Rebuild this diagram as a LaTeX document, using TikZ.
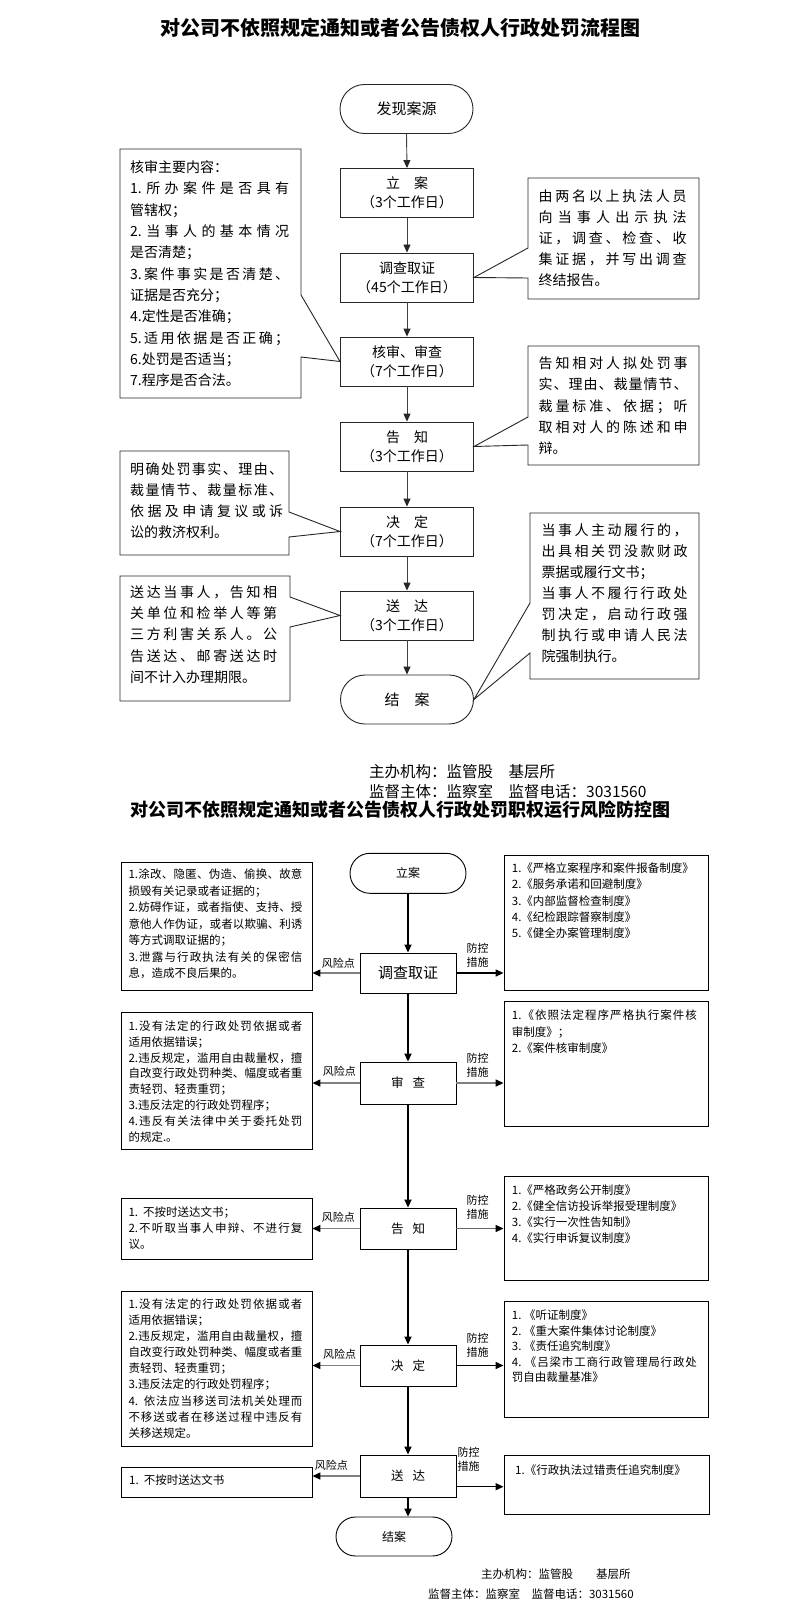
\documentclass[tikz,border=0pt]{standalone}
\usepackage{fontspec}
\setmainfont{Noto Sans CJK SC}
\usetikzlibrary{arrows.meta,shapes.misc}
\newlength\tw
\makeatletter
\def\jl@endmark{\jl@end}
\def\jl@loop#1{\def\jl@tmp{#1}\ifx\jl@tmp\jl@endmark\else#1\hfil\expandafter\jl@loop\fi}
\newcommand\JL[1]{\hbox to \tw{\jl@loop#1\jl@end\unskip}}
\makeatother
\newcommand\NL[1]{\hbox{#1}}
\newcommand\TBox[3]{\setlength\tw{#1}\vtop{\baselineskip=#2\lineskiplimit=-50pt\lineskip=0pt #3}}
\begin{document}
\begin{tikzpicture}[x=1pt,y=-1pt,
  every node/.style={inner sep=0pt},
  tbox/.style={draw=black!85, line width=0.9pt, minimum width=133pt, minimum height=49pt, align=center, font=\fontsize{14}{19}\selectfont},
  tterm/.style={rounded rectangle, draw=black!85, line width=0.9pt, minimum width=133pt, minimum height=49pt, font=\fontsize{15}{18}\selectfont},
  tarr/.style={draw=black!75, line width=0.9pt, -{Triangle[length=8pt,width=7pt,color=black!85]}},
  callout/.style={draw=black!85, line width=0.9pt, fill=white},
  ttext/.style={anchor=base west, font=\fontsize{14}{21}\selectfont},
  bbox/.style={draw, line width=0.9pt, minimum width=96pt, minimum height=41pt, font=\fontsize{12.5}{15}\selectfont},
  bterm/.style={rounded rectangle, draw, line width=0.9pt, minimum width=116pt, minimum height=40pt, font=\fontsize{12}{14}\selectfont},
  sbox/.style={draw, line width=0.9pt},
  btext/.style={anchor=base west, font=\fontsize{11.5}{16}\selectfont},
  varr/.style={line width=1.8pt, -{Triangle[length=8pt,width=7pt]}},
  harr/.style={line width=1.4pt, -{Triangle[length=8pt,width=7pt,color=black]}},
  lab/.style={font=\fontsize{11}{14}\selectfont, align=center},
  foot/.style={anchor=base west, font=\fontsize{15.5}{18}\selectfont},
  bfoot/.style={anchor=base west, font=\fontsize{11.5}{14}\selectfont},
  ttl/.style={font=\fontsize{18}{20}\selectfont\bfseries}
]
\path[use as bounding box, fill=white] (0,0) rectangle (793,1621);

% ===== Top flowchart =====
\node[ttl, font=\fontsize{20}{22}\selectfont\bfseries] (title1) at (400,28) {对公司不依照规定通知或者公告债权人行政处罚流程图};

\node[tterm] (t0) at (406.5,109) {发现案源};
\node[tbox] (c1) at (407,193) {立　案\\（3个工作日）};
\node[tbox] (c2) at (407,277.5) {调查取证\\（45个工作日）};
\node[tbox] (c3) at (407,361.5) {核审、审查\\（7个工作日）};
\node[tbox] (c4) at (407,446.5) {告　知\\（3个工作日）};
\node[tbox] (c5) at (407,531.5) {决　定\\（7个工作日）};
\node[tbox] (c6) at (407,615.5) {送　达\\（3个工作日）};
\node[tterm] (t1) at (407,699.5) {结　案};

\draw[tarr] (t0.south) -- (c1.north);
\draw[tarr] (c1.south) -- (c2.north);
\draw[tarr] (c2.south) -- (c3.north);
\draw[tarr] (c3.south) -- (c4.north);
\draw[tarr] (c4.south) -- (c5.north);
\draw[tarr] (c5.south) -- (c6.north);
\draw[tarr] (c6.south) -- (t1.north);

% callout A (left)
\draw[callout] (120,149) -- (301,149) -- (301,295) -- (c3.west) -- (301,357) -- (301,398) -- (120,398) -- cycle;
\node[ttext] (ta) at (130,172.6) {\TBox{159pt}{21.34pt}{%
\NL{核审主要内容：}
\JL{{1.}所办案件是否具有}
\NL{管辖权；}
\JL{{2.}当事人的基本情况}
\NL{是否清楚；}
\JL{{3.}案件事实是否清楚、}
\NL{证据是否充分；}
\NL{4.定性是否准确；}
\JL{{5.}适用依据是否正确；}
\NL{6.处罚是否适当；}
\NL{7.程序是否合法。}}};

% callout B (right)
\draw[callout] (528,178) -- (699,178) -- (699,299) -- (528,299) -- (528,278) -- (c2.east) -- (528,248) -- cycle;
\node[ttext] (tb) at (538.5,202) {\TBox{148pt}{21pt}{%
\JL{由两名以上执法人员}
\JL{向当事人出示执法}
\JL{证，调查、检查、收}
\JL{集证据，并写出调查}
\NL{终结报告。}}};

% callout C (right)
\draw[callout] (528,346) -- (699,346) -- (699,465) -- (528,465) -- (528,445) -- (c4.east) -- (528,417) -- cycle;
\node[ttext] (tc) at (538.5,368.6) {\TBox{149pt}{21.25pt}{%
\JL{告知相对人拟处罚事}
\JL{实、理由、裁量情节、}
\JL{裁量标准、依据；听}
\JL{取相对人的陈述和申}
\NL{辩。}}};

% callout D (left)
\draw[callout] (120,451) -- (289,451) -- (289,512) -- (c5.west) -- (289,537) -- (289,555) -- (120,555) -- cycle;
\node[ttext] (td) at (130,474.6) {\TBox{153pt}{21.1pt}{%
\JL{明确处罚事实、理由、}
\JL{裁量情节、裁量标准、}
\JL{依据及申请复议或诉}
\NL{讼的救济权利。}}};

% callout E (left)
\draw[callout] (120,576) -- (290,576) -- (290,597) -- (c6.west) -- (290,627) -- (290,701) -- (120,701) -- cycle;
\node[ttext] (te) at (130,597) {\TBox{147pt}{21.4pt}{%
\JL{送达当事人，告知相}
\JL{关单位和检举人等第}
\JL{三方利害关系人。公}
\JL{告送达、邮寄送达时}
\NL{间不计入办理期限。}}};

% callout F (right)
\draw[callout] (530,513) -- (699,513) -- (699,679) -- (530,679) -- (530,653) -- (t1.east) -- (530,603) -- cycle;
\node[ttext] (tf) at (541.5,535.3) {\TBox{146pt}{21.1pt}{%
\JL{当事人主动履行的，}
\JL{出具相关罚没款财政}
\NL{票据或履行文书；}
\JL{当事人不履行行政处}
\JL{罚决定，启动行政强}
\JL{制执行或申请人民法}
\NL{院强制执行。}}};

\node[foot] (ft1) at (369,777.6) {主办机构：监管股　基层所};
\node[foot] (ft2) at (369,797.6) {监督主体：监察室　监督电话：3031560};

% ===== Bottom chart =====
\node[ttl] (title2) at (400,810) {对公司不依照规定通知或者公告债权人行政处罚职权运行风险防控图};

\node[bterm] (b0) at (408,873.3) {立案};
\node[bbox, font=\fontsize{15}{17}\selectfont, minimum height=40pt] (b1) at (408,973) {调查取证};
\node[bbox, minimum height=42pt] (b2) at (408,1083) {审\hspace{9pt}查};
\node[bbox] (b3) at (408,1228.5) {告\hspace{9pt}知};
\node[bbox] (b4) at (408,1365.5) {决\hspace{9pt}定};
\node[bbox, minimum height=42pt] (b5) at (408,1476) {送\hspace{9pt}达};
\node[bterm, minimum height=39pt] (b6) at (394,1536.5) {结案};

\draw[varr] (b0.south) -- (b1.north);
\draw[varr] (b1.south) -- (b2.north);
\draw[varr] (b2.south) -- (b3.north);
\draw[varr] (b3.south) -- (b4.north);
\draw[varr] (b4.south) -- (b5.north);
\draw[varr] (b5.south) -- (b5.south |- b6.north);

% side boxes
\node[sbox, minimum width=191pt, minimum height=128pt] (L1) at (216.5,926) {};
\node[sbox, minimum width=191pt, minimum height=137pt] (L2) at (216.5,1080.5) {};
\node[sbox, minimum width=191pt, minimum height=61pt] (L3) at (216.5,1228.5) {};
\node[sbox, minimum width=191pt, minimum height=155pt] (L4) at (216.5,1368.5) {};
\node[sbox, minimum width=191pt, minimum height=30pt] (L5) at (216.5,1482) {};
\node[sbox, minimum width=204pt, minimum height=135pt] (R1) at (606,922.5) {};
\node[sbox, minimum width=204pt, minimum height=125pt] (R2) at (606,1063.5) {};
\node[sbox, minimum width=204pt, minimum height=104pt] (R3) at (606,1228) {};
\node[sbox, minimum width=204pt, minimum height=116pt] (R4) at (606,1359) {};
\node[sbox, minimum width=205pt, minimum height=59pt] (R5) at (606.5,1484.5) {};

\node[btext] (L1t) at (128.3,878.7) {\TBox{174pt}{16.5pt}{%
\JL{{1.}涂改、隐匿、伪造、偷换、故意}
\NL{损毁有关记录或者证据的；}
\JL{{2.}妨碍作证，或者指使、支持、授}
\JL{意他人作伪证，或者以欺骗、利诱}
\NL{等方式调取证据的；}
\JL{{3.}泄露与行政执法有关的保密信}
\NL{息，造成不良后果的。}}};

\node[btext] (L2t) at (128.3,1030.4) {\TBox{174pt}{15.8pt}{%
\JL{{1.}没有法定的行政处罚依据或者}
\NL{适用依据错误；}
\JL{{2.}违反规定，滥用自由裁量权，擅}
\JL{自改变行政处罚种类、幅度或者重}
\NL{责轻罚、轻责重罚；}
\NL{3.违反法定的行政处罚程序；}
\JL{{4.}违反有关法律中关于委托处罚}
\NL{的规定.。}}};

\node[btext] (L3t) at (128.3,1216.1) {\TBox{174pt}{16.2pt}{%
\NL{1.\ \ 不按时送达文书；}
\JL{{2.}不听取当事人申辩、不进行复}
\NL{议。}}};

\node[btext] (L4t) at (128.3,1308.4) {\TBox{174pt}{16.1pt}{%
\JL{{1.}没有法定的行政处罚依据或者}
\NL{适用依据错误；}
\JL{{2.}违反规定，滥用自由裁量权，擅}
\JL{自改变行政处罚种类、幅度或者重}
\NL{责轻罚、轻责重罚；}
\NL{3.违反法定的行政处罚程序；}
\JL{{4.\ \ }依法应当移送司法机关处理而}
\JL{不移送或者在移送过程中违反有}
\NL{关移送规定。}}};

\node[btext] (L5t) at (129,1484.4) {1.\ \ 不按时送达文书};

\node[btext] (R1t) at (511.7,872.7) {\TBox{185pt}{16.25pt}{%
\NL{1.《严格立案程序和案件报备制度》}
\NL{2.《服务承诺和回避制度》}
\NL{3.《内部监督检查制度》}
\NL{4.《纪检跟踪督察制度》}
\NL{5.《健全办案管理制度》}}};

\node[btext] (R2t) at (511.7,1019.4) {\TBox{185pt}{16.65pt}{%
\JL{{1.}《依照法定程序严格执行案件核}
\NL{审制度》；}
\NL{2.《案件核审制度》}}};

\node[btext] (R3t) at (511.7,1194.4) {\TBox{185pt}{16.1pt}{%
\NL{1.《严格政务公开制度》}
\NL{2.《健全信访投诉举报受理制度》}
\NL{3.《实行一次性告知制》}
\NL{4.《实行申诉复议制度》}}};

\node[btext] (R4t) at (511.7,1319.4) {\TBox{185pt}{15.6pt}{%
\NL{1.\ 《听证制度》}
\NL{2.\ 《重大案件集体讨论制度》}
\NL{3.\ 《责任追究制度》}
\JL{{4.\ }《吕梁市工商行政管理局行政处}
\NL{罚自由裁量基准》}}};

\node[btext] (R5t) at (515,1474.4) {1.《行政执法过错责任追究制度》};

% horizontal arrows
\draw[harr, draw=black!50] (b1.west) -- (b1.west -| L1.east);
\draw[harr, draw=black!50] (b2.west) -- (b2.west -| L2.east);
\draw[harr, draw=black!50] (b3.west) -- (b3.west -| L3.east);
\draw[harr, draw=black!50] (b4.west) -- (b4.west -| L4.east);
\draw[harr, draw=black!50] (b5.west) -- (b5.west -| L5.east);
\draw[harr] (b1.east) -- (b1.east -| R1.west);
\draw[harr, draw=black!50] (b2.east) -- (b2.east -| R2.west);
\draw[harr, draw=black!60] (b3.east) -- (b3.east -| R3.west);
\draw[harr] (b4.east) -- (b4.east -| R4.west);
\draw[harr] ([yshift=-10.7pt]b5.east) -- ([yshift=-10.7pt]b5.east -| R5.west);

% labels
\node[lab] (f1) at (338.3,963.3) {风险点};
\node[lab] (f2) at (339.3,1071.7) {风险点};
\node[lab] (f3) at (338.3,1217.3) {风险点};
\node[lab] (f4) at (339.7,1354) {风险点};
\node[lab] (f5) at (331.4,1465) {风险点};
\node[lab] (p1) at (477.5,955) {防控\\措施};
\node[lab] (p2) at (477.5,1065.5) {防控\\措施};
\node[lab] (p3) at (477.5,1207.5) {防控\\措施};
\node[lab] (p4) at (477.5,1345.5) {防控\\措施};
\node[lab] (p5) at (468.7,1459.2) {防控\\措施};

\node[bfoot] (bf1) at (481,1578.4) {主办机构：监管股　　基层所};
\node[bfoot] (bf2) at (427.8,1598.4) {监督主体：监察室　监督电话：3031560};
\end{tikzpicture}
\end{document}
